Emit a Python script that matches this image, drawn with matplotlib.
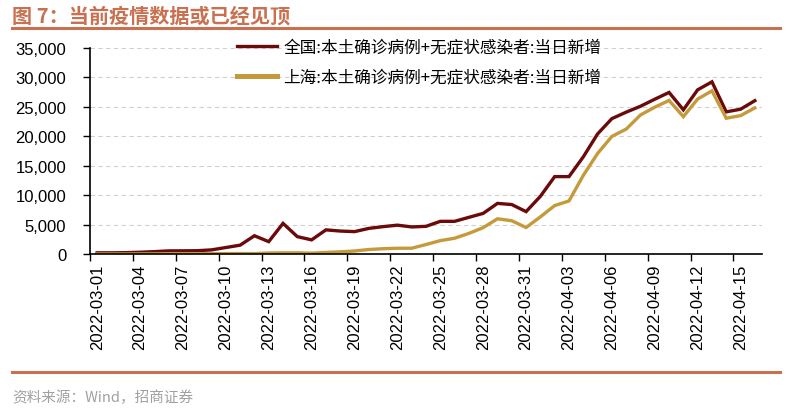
import numpy as np
import pandas as pd
import matplotlib
matplotlib.use("Agg")
import matplotlib.pyplot as plt
from matplotlib.lines import Line2D

plt.rcParams['font.family'] = ['Liberation Sans', 'Noto Sans CJK SC']

dates = pd.date_range("2022-03-01", "2022-04-16", freq="D").strftime("%Y-%m-%d").tolist()

# 全国:本土确诊病例+无症状感染者:当日新增
national = [200, 200, 230, 300, 400, 530, 540, 560, 700, 1100, 1500,
            3100, 2100, 5200, 2950, 2400, 4100, 3900, 3800, 4350, 4650,
            4900, 4600, 4700, 5550, 5550, 6230, 6900, 8600, 8400, 7200,
            9800, 13150, 13150, 16500, 20400, 23000, 24100, 25100, 26300,
            27450, 24500, 27900, 29250, 24150, 24600, 26050]
# 上海:本土确诊病例+无症状感染者:当日新增
shanghai = [10, 10, 15, 20, 30, 50, 50, 60, 60, 70, 80, 70, 170, 200, 200,
            150, 260, 370, 510, 760, 900, 980, 980, 1610, 2270, 2680, 3500,
            4480, 5980, 5650, 4500, 6310, 8230, 9010, 13350, 17080, 19980,
            21220, 23620, 24940, 26090, 23340, 26330, 27720, 23070, 23510,
            24820]

labels = ["全国:本土确诊病例+无症状感染者:当日新增",
          "上海:本土确诊病例+无症状感染者:当日新增"]
c_nat = "#6B0A0A"
c_sh = "#C49A3A"
accent = "#C8704F"

fig = plt.figure(figsize=(7.9, 4.1), dpi=100)
ax = fig.add_axes([90 / 790, 1 - 255 / 410, 672 / 790, 206 / 410])

x = np.arange(len(dates)) + 0.5
ax.plot(x, national, color=c_nat, lw=2.4, solid_joinstyle="miter")
ax.plot(x, shanghai, color=c_sh, lw=2.4, solid_joinstyle="miter")

ax.set_xlim(0, len(dates))
ax.set_ylim(0, 35000)
ax.set_yticks(np.arange(0, 35001, 5000))
ax.set_yticklabels([f"{v:,}" for v in range(0, 35001, 5000)], fontsize=12)
ax.yaxis.grid(True, ls=(0, (4, 3)), color="#D0D0D0", lw=0.8)
ax.set_axisbelow(True)

# tick marks at category boundaries, labels at category centres
ax.set_xticks(np.arange(0, len(dates), 3))
ax.set_xticklabels([])
ax.set_xticks(np.arange(0, len(dates), 3) + 0.5, minor=True)
ax.set_xticklabels(dates[::3], minor=True, rotation=90, fontsize=12)
ax.tick_params(axis="x", which="major", length=5, width=1, direction="out")
ax.tick_params(axis="x", which="minor", length=0, pad=7)
ax.tick_params(axis="y", length=5, width=1, direction="out", pad=12)

for s in ["top", "right"]:
    ax.spines[s].set_visible(False)
for s in ["left", "bottom"]:
    ax.spines[s].set_color("black")
    ax.spines[s].set_linewidth(1.2)

handles = [Line2D([], [], color=c_nat, lw=2.4), Line2D([], [], color=c_sh, lw=3.6)]
fig.legend(handles, labels, loc="upper left", bbox_to_anchor=(229 / 790, 1 - 31 / 410),
           frameon=False, borderpad=0, handlelength=2.4, handletextpad=0.35,
           labelspacing=0.78, prop={"family": ["Noto Sans CJK SC"], "size": 12})

# title and frame lines
fig.text(12 / 790, 1 - 16 / 410, "图 7：当前疫情数据或已经见顶", color=accent,
         fontsize=14.5, fontweight="bold", va="center", ha="left",
         family=["Noto Sans CJK SC"])
fig.add_artist(Line2D([12 / 790, 780 / 790], [1 - 29 / 410, 1 - 29 / 410],
                      color=accent, lw=2.2))
fig.add_artist(Line2D([12 / 790, 780 / 790], [1 - 373 / 410, 1 - 373 / 410],
                      color=accent, lw=2.2))
fig.text(12 / 790, 1 - 398 / 410, "资料来源：Wind，招商证券", color="#A0A0A0",
         fontsize=10.5, va="center", ha="left", family=["Noto Sans CJK SC"])

fig.savefig("out.png", dpi=100)
